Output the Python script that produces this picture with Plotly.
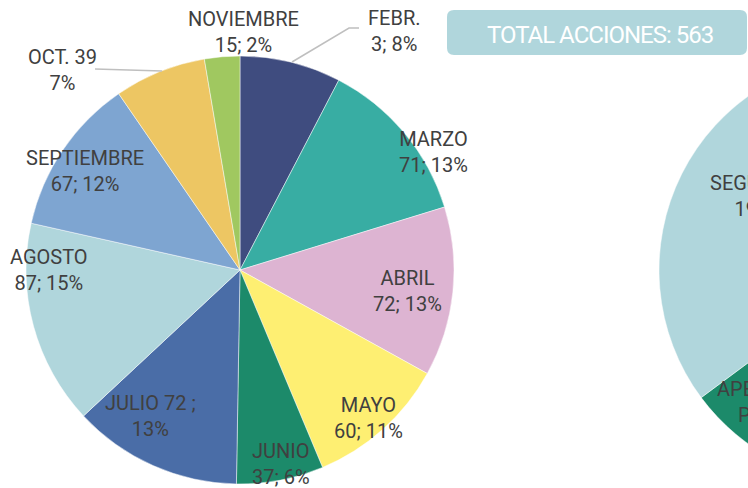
import plotly.graph_objects as go

W, H = 1120, 488

# ---- data: main pie (months) ----
months = ["FEBR.", "MARZO", "ABRIL", "MAYO", "JUNIO", "JULIO", "AGOSTO",
          "SEPTIEMBRE", "OCT.", "NOVIEMBRE"]
acciones = [43, 71, 72, 60, 37, 72, 87, 67, 39, 15]
label_text = ["FEBR.<br>3; 8%", "MARZO<br>71; 13%", "ABRIL<br>72; 13%",
              "MAYO<br>60; 11%", "JUNIO<br>37; 6%", "JULIO 72 ;<br>13%",
              "AGOSTO<br>87; 15%", "SEPTIEMBRE<br>67; 12%", "OCT. 39<br>7%",
              "NOVIEMBRE<br>15; 2%"]
month_colors = ["#3F4C7F", "#38ADA3", "#DDB4D2", "#FEEF72", "#1C8A6A",
                "#4A6DA7", "#B0D6DC", "#7EA5D1", "#EDC663", "#A0C860"]
# label centres in pixels (x, y of first line)
label_pos = [(394, 18), (433, 139), (407, 278), (368, 405), (281, 451),
             (150, 403), (49, 257), (85, 158), (62, 57), (243, 19)]

# ---- data: second pie (cut off at right edge) ----
tipos = ["OTRAS", "VISITAS", "APERTURA", "SEGUIMIENTO"]
tipo_vals = [150, 131, 84, 198]
tipo_colors = ["#38ADA3", "#3F4C7F", "#1C8A6A", "#B0D6DC"]
tipo_text = [("SEGUIMIENTO<br>198; 35%", 774, 183), ("APERTURA<br>P. 15%", 766, 389)]

total_title = "TOTAL ACCIONES: 563"

FONT = "Roboto"
TXT = "#404040"

fig = go.Figure()

def dom(cx, cy, r):
    return dict(x=[(cx - r) / W, (cx + r) / W], y=[(H - cy - r) / H, (H - cy + r) / H])

fig.add_trace(go.Pie(
    labels=months, values=acciones, sort=False, direction="clockwise", rotation=0,
    marker=dict(colors=month_colors, line=dict(color="rgba(255,255,255,0.6)", width=0.8)),
    textinfo="none", hoverinfo="label+value+percent", showlegend=False,
    domain=dom(240, 270, 214)))

fig.add_trace(go.Pie(
    labels=tipos, values=tipo_vals, sort=False, direction="clockwise", rotation=0,
    marker=dict(colors=tipo_colors, line=dict(color="rgba(255,255,255,0.6)", width=0.8)),
    textinfo="none", hoverinfo="label+value+percent", showlegend=False,
    domain=dom(873, 270, 214)))

annotations = []
for t, (px, py) in zip(label_text, label_pos):
    annotations.append(dict(text=t, x=px / W, y=1 - (py - 14) / H, xref="paper", yref="paper",
                            xanchor="center", yanchor="top", showarrow=False, align="center",
                            font=dict(family=FONT, size=20, color=TXT)))
for t, px, py in tipo_text:
    annotations.append(dict(text=t, x=px / W, y=1 - (py - 14) / H, xref="paper", yref="paper",
                            xanchor="center", yanchor="top", showarrow=False, align="center",
                            font=dict(family=FONT, size=20, color=TXT)))
annotations.append(dict(text=f"<span style='letter-spacing:-1px'>{total_title}</span>",
                        x=600 / W, y=1 - 34.5 / H, xref="paper", yref="paper",
                        xanchor="center", yanchor="middle", showarrow=False,
                        font=dict(family=FONT, size=24, color="white")))

def P(x, y):
    return f"{x / W},{1 - y / H}"

shapes = [
    dict(type="path", xref="paper", yref="paper",
         path=f"M {P(292, 62)} L {P(349, 28)} L {P(359, 28)}",
         line=dict(color="#BFBFBF", width=1.5)),
    dict(type="line", xref="paper", yref="paper", x0=95 / W, y0=1 - 69 / H, x1=162 / W, y1=1 - 71 / H,
         line=dict(color="#BFBFBF", width=1.5)),
]
# rounded title box
x0, x1, y0, y1, r = 447, 747, 10, 55, 7
path = (f"M {P(x0 + r, y0)} L {P(x1 - r, y0)} Q {P(x1, y0)} {P(x1, y0 + r)} "
        f"L {P(x1, y1 - r)} Q {P(x1, y1)} {P(x1 - r, y1)} L {P(x0 + r, y1)} "
        f"Q {P(x0, y1)} {P(x0, y1 - r)} L {P(x0, y0 + r)} Q {P(x0, y0)} {P(x0 + r, y0)} Z")
shapes.append(dict(type="path", xref="paper", yref="paper", path=path,
                   fillcolor="#B0D6DC", line=dict(width=0), layer="below"))

fig.update_layout(width=W, height=H, margin=dict(l=0, r=0, t=0, b=0),
                  paper_bgcolor="white", plot_bgcolor="white",
                  annotations=annotations, shapes=shapes,
                  font=dict(family=FONT))

fig.write_html("out.html",
               post_script="document.body.style.margin='0';document.body.style.overflow='hidden';"
                           "document.documentElement.style.overflow='hidden';")
